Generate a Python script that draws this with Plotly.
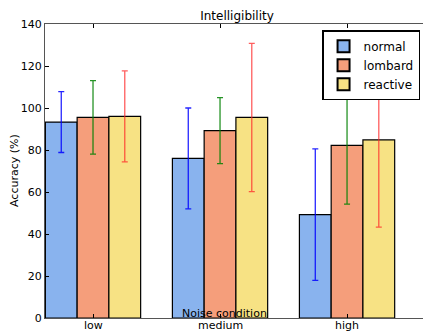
import plotly.graph_objects as go

categories = ["low", "medium", "high"]
series_names = ["normal", "lombard", "reactive"]
normal_vals = [93.3, 76.0, 49.2]
lombard_vals = [95.5, 89.2, 82.2]
reactive_vals = [96.0, 95.5, 84.8]
normal_err = [14.5, 24.0, 31.3]
lombard_err = [17.5, 15.7, 28.0]
reactive_err = [21.7, 35.3, 41.5]
y_ticks = [0, 20, 40, 60, 80, 100, 120, 140]

fill_colors = ["#89b3ee", "#f59e7b", "#f7e284"]
err_colors = ["rgba(0,0,255,0.85)", "rgba(0,128,0,0.85)", "rgba(255,40,40,0.75)"]

xs = list(range(len(categories)))
fig = go.Figure()
for name, vals, errs, fc, ec in zip(series_names,
                                    [normal_vals, lombard_vals, reactive_vals],
                                    [normal_err, lombard_err, reactive_err],
                                    fill_colors, err_colors):
    fig.add_trace(go.Bar(
        x=xs, y=vals, name=name,
        marker=dict(color=fc, line=dict(color="black", width=1.2)),
        error_y=dict(type="data", array=errs, visible=True, color=ec,
                     thickness=1.3, width=3),
    ))

annotations = [dict(text="Noise condition", x=0.475, y=0, xref="paper", yref="paper",
                    xanchor="center", yanchor="bottom", yshift=-4, showarrow=False,
                    font=dict(size=11)),
               dict(text="Accuracy (%)", x=0, y=0.5, xref="paper", yref="paper",
                    xanchor="center", yanchor="middle", xshift=-31, textangle=-90,
                    showarrow=False, font=dict(size=11))]
for xi, cat in zip(xs, categories):
    annotations.append(dict(text=cat, x=xi, y=0, xref="x", yref="paper",
                            xanchor="center", yanchor="top", yshift=1,
                            showarrow=False, font=dict(size=11)))

fig.update_layout(
    width=423, height=331,
    margin=dict(l=45, r=0, t=24, b=13, autoexpand=False),
    paper_bgcolor="white", plot_bgcolor="white",
    barmode="group", bargap=0.25, bargroupgap=0,
    font=dict(family="DejaVu Sans", size=11, color="black"),
    title=dict(text="Intelligibility", x=0.508, xanchor="center", y=0.953, yanchor="middle",
               xref="paper", yref="container", font=dict(size=12)),
    showlegend=True,
    legend=dict(x=0.993, y=0.978, xref="paper", xanchor="right", yanchor="top",
                bgcolor="white", bordercolor="black", borderwidth=1.2,
                font=dict(size=12), itemsizing="constant", itemwidth=30,
                tracegroupgap=0, traceorder="normal"),
    xaxis=dict(range=[-0.378, 2.598], tickmode="array", tickvals=xs, ticktext=categories,
               showticklabels=False, automargin=False,
               ticks="inside", ticklen=4, tickcolor="black", showline=True, linecolor="#555",
               linewidth=1.2, mirror="ticks", showgrid=False, zeroline=False),
    yaxis=dict(range=[0, 140], tickmode="array", tickvals=y_ticks, automargin=False,
               ticks="inside", ticklen=4, tickcolor="black", showline=True, linecolor="#555",
               linewidth=1.2, showgrid=False, zeroline=False,
               tickfont=dict(size=11)),
    annotations=annotations,
)

fig.write_html("out.html", config={"displayModeBar": False},
               post_script="document.body.style.margin='0';document.body.style.overflow='hidden';")
